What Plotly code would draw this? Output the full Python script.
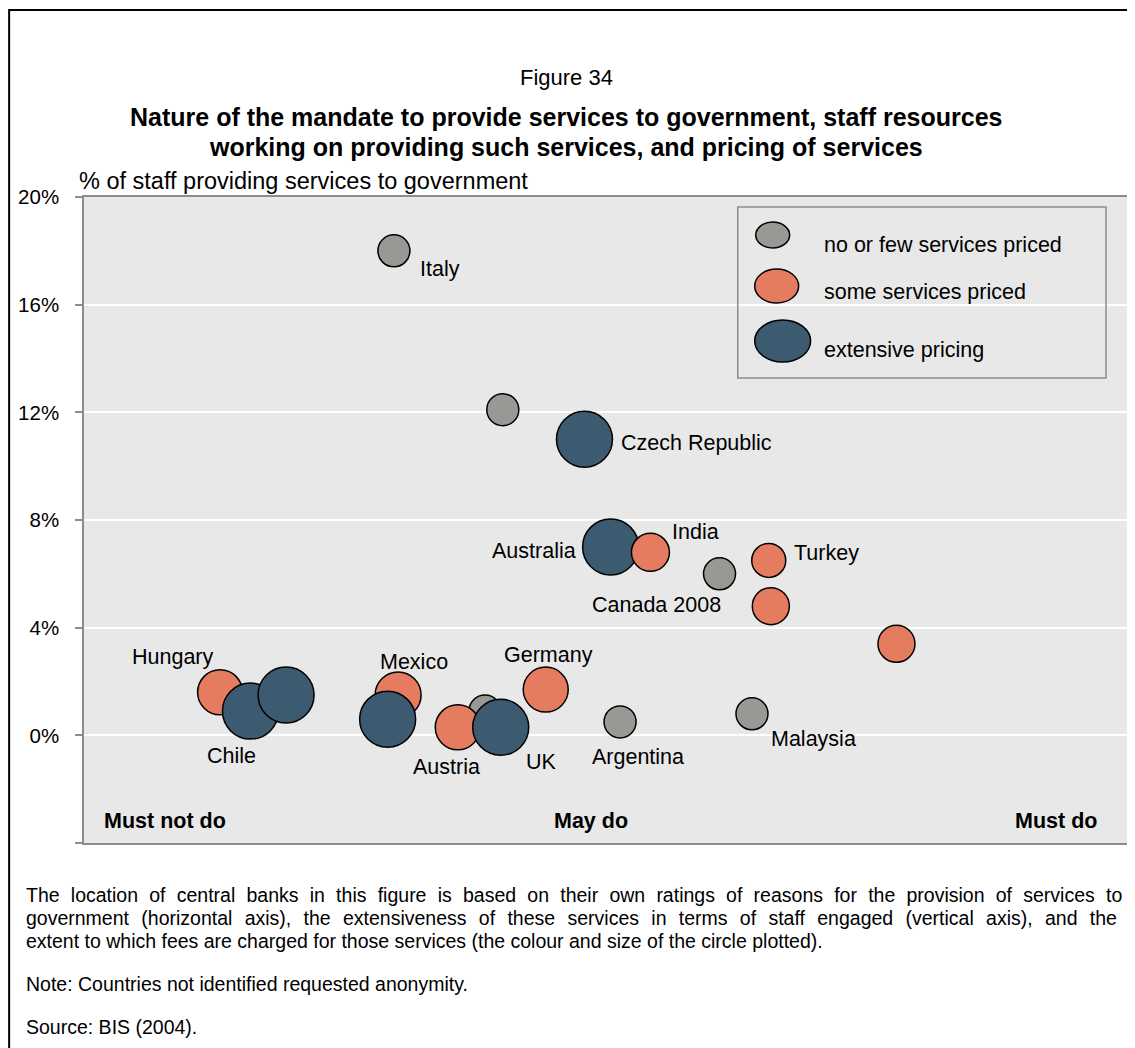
import plotly.graph_objects as go

# ---------------- data (listed in drawing order: grey, orange, blue, then India on top) ----------------
names = ["Italy", "", "", "Argentina", "Malaysia", "",
         "Turkey", "Canada 2008", "", "Germany", "Austria", "Mexico", "Hungary",
         "Czech Republic", "Australia", "UK", "", "Chile", "",
         "India"]
mandate = [2.96, 4.00, 6.07, 5.12, 6.38, 3.83,
           6.54, 6.56, 7.76, 4.41, 3.57, 3.00, 1.30,
           4.78, 5.03, 3.98, 2.90, 1.59, 1.93,
           5.41]
staff_pct = [18.0, 12.1, 6.0, 0.5, 0.8, 0.9,
             6.5, 4.8, 3.4, 1.7, 0.3, 1.5, 1.6,
             11.0, 7.0, 0.3, 0.6, 0.9, 1.5,
             6.8]
pricing = ["none", "none", "none", "none", "none", "none",
           "some", "some", "some", "some", "some", "some", "some",
           "ext", "ext", "ext", "ext", "ext", "ext",
           "some"]
bubble = [32, 32, 32, 32, 32, 32,
          34, 37, 37, 45, 45, 46, 45,
          56, 56, 56, 56, 56, 56,
          38]
legend_labels = ["no or few services priced", "some services priced", "extensive pricing"]
axis_labels = ["Must not do", "May do", "Must do"]
axis_label_pos = [0.77, 4.84, 9.28]
y_ticks = [-4, 0, 4, 8, 12, 16, 20]
y_ticktext = ["", "0%", "4%", "8%", "12%", "16%", "20%"]

# ---------------- styling ----------------
colors = {"none": "#979995", "some": "#E57C60", "ext": "#3C5A70"}
FONT = "Liberation Sans, Arial, sans-serif"
# label offsets (px) relative to bubble centre: (xshift, yshift, xanchor)
label_style = {
    "Italy": (24, -18, "left"), "Czech Republic": (35, -4, "left"),
    "Australia": (-33, -4, "right"), "India": (20, 20, "left"),
    "Turkey": (23, 7, "left"), "Canada 2008": (-48, 1, "right"),
    "Germany": (3, 35, "center"), "Argentina": (18, -35, "center"),
    "Malaysia": (62, -25, "center"), "UK": (41, -35, "center"),
    "Austria": (-11, -40, "center"), "Mexico": (16, 33, "center"),
    "Hungary": (-47, 35, "center"), "Chile": (-19, -45, "center"),
}

# page geometry (the page body has an 8px margin)
OFF = 8
W, H = 1135 - OFF, 1048 - OFF
L, R, T, B = 84, 1133, 197, 843   # plot area in page pixels


def px(x):
    return (x - L) / (R - L)


def py(y):
    return (B - y) / (B - T)


fig = go.Figure()
fig.add_trace(go.Scatter(
    x=mandate, y=staff_pct, mode="markers",
    marker=dict(size=bubble, sizemode="diameter",
                color=[colors[p] for p in pricing],
                line=dict(color="black", width=1.5), opacity=1),
    hoverinfo="skip", showlegend=False, cliponaxis=False))

annotations = []
for n, xv, yv in zip(names, mandate, staff_pct):
    if not n:
        continue
    xs, ys, xa = label_style[n]
    annotations.append(dict(x=xv, y=yv, xref="x", yref="y", text=n, showarrow=False,
                            xshift=xs, yshift=ys, xanchor=xa, yanchor="middle",
                            font=dict(family=FONT, size=21.5, color="black")))

# x-axis category labels inside plot
for t, xv in zip(axis_labels, axis_label_pos):
    annotations.append(dict(x=xv, y=py(821), xref="x", yref="paper", text="<b>" + t + "</b>",
                            showarrow=False, xanchor="center", yanchor="middle",
                            font=dict(family=FONT, size=21.5, color="black")))

# y-axis title
annotations.append(dict(x=px(77), y=py(181), xref="paper", yref="paper",
                        text="% of staff providing services to government", showarrow=False,
                        xanchor="left", yanchor="middle",
                        font=dict(family=FONT, size=23.5, color="black")))

# titles
annotations.append(dict(x=px(567), y=py(77), xref="paper", yref="paper", text="Figure 34",
                        showarrow=False, xanchor="center", yanchor="middle",
                        font=dict(family=FONT, size=22, color="black")))
annotations.append(dict(x=px(567), y=py(117), xref="paper", yref="paper",
                        text="<b>Nature of the mandate to provide services to government, staff resources</b>",
                        showarrow=False, xanchor="center", yanchor="middle",
                        font=dict(family=FONT, size=25, color="black")))
annotations.append(dict(x=px(567), y=py(147), xref="paper", yref="paper",
                        text="<b>working on providing such services, and pricing of services</b>",
                        showarrow=False, xanchor="center", yanchor="middle",
                        font=dict(family=FONT, size=25, color="black")))

# footnotes (first two lines are justified in the original -> widen word spacing)
foot = [
    ("The location of central banks in this figure is based on their own ratings of reasons for the provision of services to", 895, 5.8),
    ("government (horizontal axis), the extensiveness of these services in terms of staff engaged (vertical axis), and the", 918, 6.9),
    ("extent to which fees are charged for those services (the colour and size of the circle plotted).", 941, 0),
    ("Note: Countries not identified requested anonymity.", 984, 0),
    ("Source: BIS (2004).", 1027, 0),
]
for t, yy, ws in foot:
    txt = t if ws == 0 else '<span style="word-spacing:%.1fpx">%s</span>' % (ws, t)
    annotations.append(dict(x=px(24), y=py(yy), xref="paper", yref="paper", text=txt,
                            showarrow=False, xanchor="left", yanchor="middle",
                            font=dict(family=FONT, size=19.5, color="black")))

# legend (custom box)
shapes = [dict(type="rect", xref="paper", yref="paper", x0=px(739), x1=px(1108), y0=py(378), y1=py(207),
               line=dict(color="#8C8C8C", width=1.5), fillcolor="rgba(0,0,0,0)", layer="above")]
leg_items = [("none", 774, 235, 34, 26, 245), ("some", 778, 286, 44, 34, 292), ("ext", 784, 341, 56, 42, 350)]
for (cat, cx, cy, w, h, ty), lab in zip(leg_items, legend_labels):
    shapes.append(dict(type="circle", xref="paper", yref="paper",
                       x0=px(cx - w / 2), x1=px(cx + w / 2), y0=py(cy + h / 2), y1=py(cy - h / 2),
                       fillcolor=colors[cat], line=dict(color="black", width=1.5), layer="above"))
    annotations.append(dict(x=px(823), y=py(ty), xref="paper", yref="paper", text=lab,
                            showarrow=False, xanchor="left", yanchor="middle",
                            font=dict(family=FONT, size=21.5, color="black")))

# outer frame
shapes.append(dict(type="rect", xref="paper", yref="paper", x0=px(9), x1=px(1300), y0=py(1300), y1=py(10),
                   line=dict(color="black", width=2), fillcolor="rgba(0,0,0,0)", layer="above"))

fig.update_layout(
    width=W, height=H,
    margin=dict(l=L - OFF, r=W - (R - OFF), t=T - OFF, b=H - (B - OFF), pad=0),
    paper_bgcolor="white", plot_bgcolor="#E8E8E8",
    showlegend=False,
    font=dict(family=FONT, size=18, color="black"),
    xaxis=dict(range=[0, 10], showgrid=False, zeroline=False, showticklabels=False, ticks="",
               showline=True, mirror=True, linecolor="#8C8C8C", linewidth=1.5),
    yaxis=dict(range=[-4, 20], tickvals=y_ticks, ticktext=y_ticktext, showgrid=True,
               gridcolor="white", gridwidth=2, zeroline=False,
               ticks="outside", ticklen=7, tickcolor="#8C8C8C", tickwidth=1.5,
               showline=True, mirror=True, linecolor="#8C8C8C", linewidth=1.5,
               tickfont=dict(family=FONT, size=20.5, color="black"), ticklabelstandoff=12),
    annotations=annotations, shapes=shapes,
)

fig.write_html("out.html")
